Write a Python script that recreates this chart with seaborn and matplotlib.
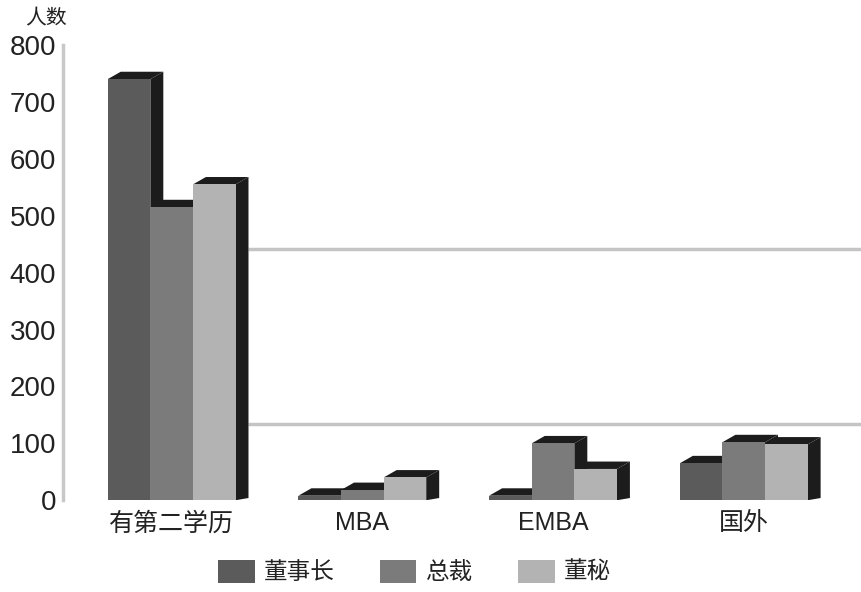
import matplotlib
matplotlib.use('Agg')
import matplotlib.pyplot as plt
import seaborn as sns
import pandas as pd
from matplotlib.patches import Polygon

# data
categories = ['有第二学历', 'MBA', 'EMBA', '国外']
roles = ['董事长', '总裁', '董秘']
chairman = [740, 8, 8, 65]
president = [515, 18, 100, 102]
secretary = [555, 40, 55, 98]
ref_lines = [441, 134]
yticks = [0, 100, 200, 300, 400, 500, 600, 700, 800]

colors = ['#5b5b5b', '#7b7b7b', '#b3b3b3']
dark = '#1c1c1c'

sns.set_theme(style='white')
plt.rcParams['font.family'] = ['Liberation Sans', 'Noto Sans CJK SC', 'DejaVu Sans']

df = pd.DataFrame({
    'cat': categories * 3,
    'role': [r for r in roles for _ in categories],
    'val': chairman + president + secretary,
})

fig = plt.figure(figsize=(8.62, 5.92), dpi=100)
ax = fig.add_axes([0.073, 0.155, 0.927, 0.769])

sns.barplot(data=df, x='cat', y='val', hue='role', order=categories,
            hue_order=roles, palette=colors, width=0.67, saturation=1,
            linewidth=0, ax=ax, legend=False)

ax.set_xlim(-0.57, 3.62)
ax.set_ylim(0, 800)

# fake 3D depth: top and side faces for each bar
dx, dy = 0.068, 13
n = len(categories)
for i, p in enumerate(ax.patches[:n * len(roles)]):
    hue_i = i // n
    z = 2 + hue_i * 2
    p.set_zorder(z + 1)
    x0 = p.get_x()
    x1 = x0 + p.get_width()
    h = p.get_height()
    top = Polygon([(x0, h), (x1, h), (x1 + dx, h + dy), (x0 + dx, h + dy)],
                  closed=True, facecolor=dark, edgecolor='none', zorder=z)
    side = Polygon([(x1, 0), (x1 + dx, dy * 0.3), (x1 + dx, h + dy), (x1, h)],
                   closed=True, facecolor=dark, edgecolor='none', zorder=z)
    ax.add_patch(top)
    ax.add_patch(side)

# grey horizontal lines to the right of the first group
first_right = max(p.get_x() + p.get_width() for p in ax.patches[:n * len(roles)]
                  if p.get_x() < 0.5) + dx
ax.hlines(ref_lines, first_right, 3.62, colors='#c4c4c4', linewidth=2.5, zorder=1)

for s in ['top', 'right', 'bottom']:
    ax.spines[s].set_visible(False)
ax.spines['left'].set_color('#c8c8c8')
ax.spines['left'].set_linewidth(2.5)

ax.set_yticks(yticks)
ax.tick_params(axis='y', length=4, width=1.5, color='#b0b0b0', labelsize=20,
               labelcolor='#222222', pad=1)
ax.tick_params(axis='x', length=0, labelsize=18, labelcolor='#222222', pad=8)
ax.set_xlabel('')
ax.set_ylabel('')
fig.text(0.029, 0.968, '人数', fontsize=15, color='#222222', ha='left', va='center')

handles = [plt.Rectangle((0, 0), 1, 1, facecolor=c, edgecolor='none') for c in colors]
fig.legend(handles, roles, loc='center', bbox_to_anchor=(0.481, 0.034), ncol=3,
           frameon=False, fontsize=17, handlelength=1.55, handleheight=1.15,
           handletextpad=0.4, columnspacing=1.9, labelcolor='#222222')

fig.savefig('out.png', dpi=100, facecolor='white')
